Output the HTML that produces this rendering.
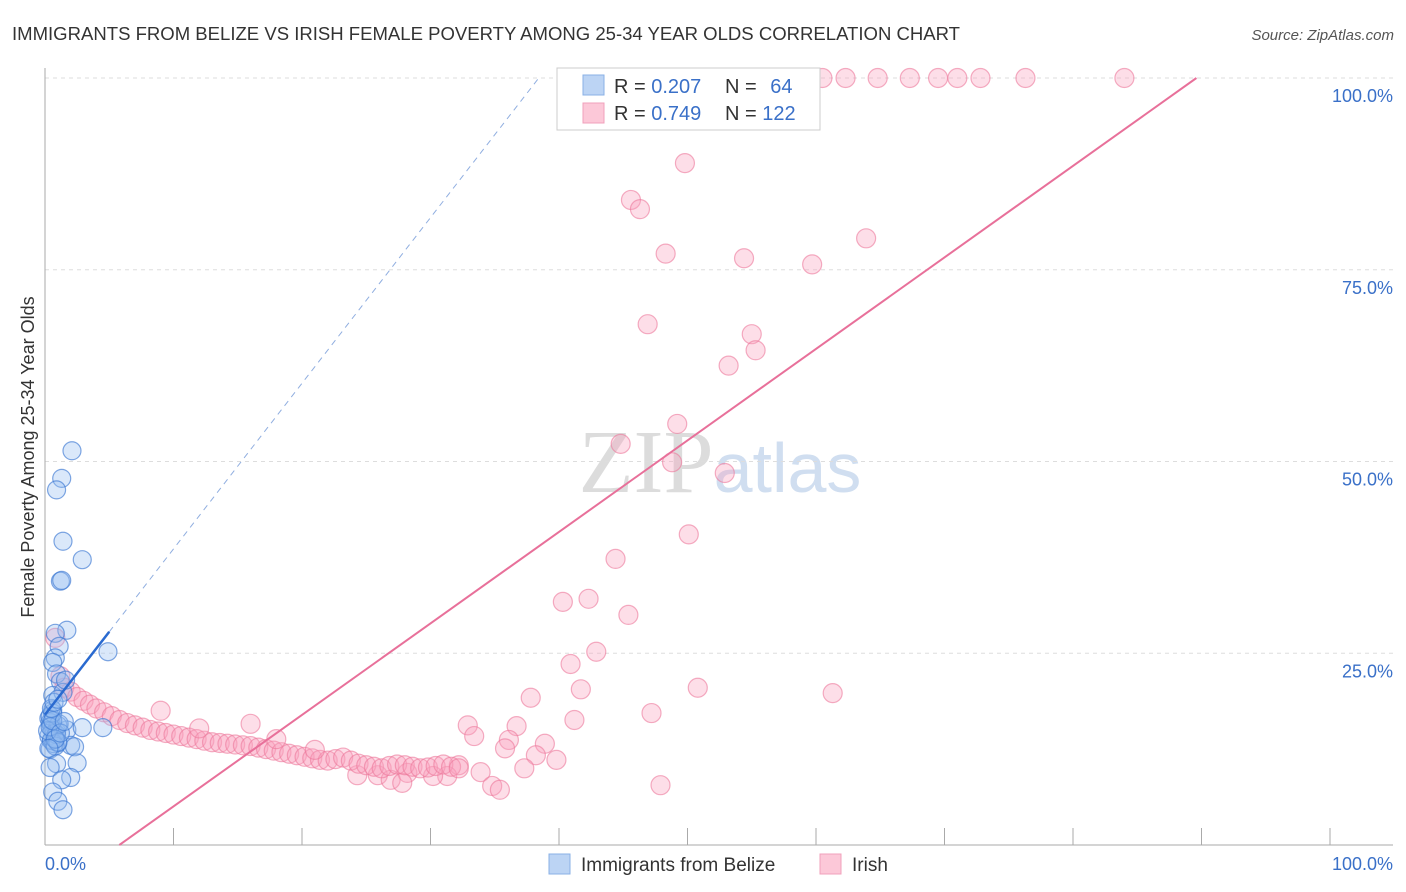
<!DOCTYPE html>
<html><head><meta charset="utf-8"><style>
body{margin:0;background:#fff;font-family:"Liberation Sans",sans-serif;}
svg{display:block}
</style></head><body>
<svg id="c" width="1406" height="892" xmlns="http://www.w3.org/2000/svg">
<text x="12" y="40" font-size="18" fill="#333" textLength="948" lengthAdjust="spacingAndGlyphs">IMMIGRANTS FROM BELIZE VS IRISH FEMALE POVERTY AMONG 25-34 YEAR OLDS CORRELATION CHART</text>
<text x="1394" y="40" font-size="15" fill="#555" font-style="italic" text-anchor="end">Source: ZipAtlas.com</text>
<text x="34" y="457" font-size="18" fill="#333" text-anchor="middle" transform="rotate(-90 34 457)">Female Poverty Among 25-34 Year Olds</text>
<text x="720" y="492" font-size="90" fill="#ddd" text-anchor="middle" font-family="Liberation Serif,serif"><tspan fill="#dcdcdc">ZIP</tspan><tspan fill="#d0def0" font-family="Liberation Sans,sans-serif" font-size="70">atlas</tspan></text>
<g id="grid"></g><g id="pts"></g><g id="lines"></g>
<g>
<rect x="557" y="68" width="263" height="62" fill="#fff" stroke="#ccc"/>
<rect x="583" y="75" width="21" height="20" fill="#bcd4f4" stroke="#8ab0e6"/>
<rect x="583" y="103" width="21" height="20" fill="#fcc8d8" stroke="#f0a0bb"/>
<text x="614" y="93" font-size="20" fill="#333">R = <tspan fill="#3a70c8">0.207</tspan></text>
<text x="725" y="93" font-size="20" fill="#333">N = <tspan fill="#3a70c8" dx="8">64</tspan></text>
<text x="614" y="120" font-size="20" fill="#333">R = <tspan fill="#3a70c8">0.749</tspan></text>
<text x="725" y="120" font-size="20" fill="#333">N = <tspan fill="#3a70c8">122</tspan></text>
</g>
<g>
<rect x="549" y="854" width="21" height="20" fill="#bcd4f4" stroke="#8ab0e6"/>
<text x="581" y="871" font-size="19" fill="#333">Immigrants from Belize</text>
<rect x="820" y="854" width="21" height="20" fill="#fcc8d8" stroke="#f0a0bb"/>
<text x="852" y="871" font-size="19" fill="#333">Irish</text>
</g>
</svg>
<script>
const yTicks=[100,75,50,25];
const yTickLabels=["100.0%","75.0%","50.0%","25.0%"];
const xTicks=[0,10,20,30,40,50,60,70,80,90,100];
const blueX=[2.1,1.3,0.9,1.4,2.9,1.2,1.3,1.7,0.8,1.1,4.9,0.8,0.6,0.9,1.2,0.6,1.4,0.6,0.5,0.6,1.7,2.9,4.5,0.5,1.0,2.0,2.3,0.4,2.5,0.9,0.4,2.0,1.3,0.6,1.0,1.4,0.3,0.4,0.5,0.6,0.7,0.8,0.9,1.0,0.3,0.5,0.7,0.9,1.1,0.4,0.6,0.8,1.0,0.2,0.4,0.6,0.8,1.2,1.5,0.3,0.5,0.7,1.0,1.6];
const blueY=[51.4,47.8,46.3,39.6,37.2,34.4,34.5,28.0,27.6,25.9,25.2,24.4,23.8,22.3,21.3,19.5,19.9,17.6,15.9,15.0,15.0,15.3,15.3,13.7,13.3,13.0,12.8,12.5,10.7,10.6,10.1,8.8,8.5,6.9,5.7,4.6,16.5,16.0,15.5,15.0,14.5,14.0,14.8,15.6,14.2,13.6,13.2,14.4,15.8,16.8,17.2,12.9,13.4,14.9,15.4,16.2,13.8,14.6,16.1,12.6,17.8,18.6,19.0,21.5];
const pinkX=[43.2,47.9,52.1,59.1,60.5,62.3,64.8,67.3,69.5,71.0,72.8,76.3,84.0,49.8,45.6,46.3,63.9,48.3,54.4,59.7,46.9,55.0,55.3,53.2,49.2,44.8,48.8,52.9,50.1,44.4,42.3,40.3,45.4,42.9,40.9,41.7,50.8,61.3,37.8,47.2,41.2,32.9,36.7,33.4,36.1,38.9,35.8,38.2,39.8,32.2,37.3,33.9,24.3,25.9,31.3,28.2,26.9,27.8,30.2,47.9,34.8,35.4,
0.8,1.2,1.5,2.0,2.5,3.0,3.5,4.0,4.6,5.2,5.8,6.4,7.0,7.6,8.2,8.8,9.4,10.0,10.6,11.2,11.8,12.4,13.0,13.6,14.2,14.8,15.4,16.0,16.6,17.2,17.8,18.4,19.0,19.6,20.2,20.8,21.4,22.0,22.6,23.2,23.8,24.4,25.0,25.6,26.2,26.8,27.4,28.0,28.6,29.2,29.8,30.4,31.0,31.6,32.2,18.0,21.0,12.0,9.0,16.0];
const pinkY=[100,100,100,100,100,100,100,100,100,100,100,100,100,88.9,84.1,82.9,79.1,77.1,76.5,75.7,67.9,66.6,64.5,62.5,54.9,52.3,49.9,48.5,40.5,37.3,32.1,31.7,30.0,25.2,23.6,20.3,20.5,19.8,19.2,17.2,16.3,15.6,15.5,14.2,13.7,13.2,12.6,11.7,11.1,10.4,10.0,9.5,9.1,9.1,9.0,9.4,8.5,8.1,9.0,7.8,7.7,7.2,
27.0,22.0,20.5,20.0,19.3,18.8,18.3,17.8,17.3,16.8,16.3,15.9,15.6,15.3,15.0,14.8,14.6,14.4,14.2,14.0,13.8,13.6,13.4,13.3,13.2,13.1,13.0,12.9,12.7,12.5,12.3,12.1,11.9,11.7,11.5,11.3,11.1,11.0,11.2,11.4,11.0,10.6,10.4,10.2,10.0,10.3,10.5,10.4,10.2,10.0,10.1,10.3,10.5,10.2,10.0,13.8,12.4,15.2,17.5,15.8];
const blueFit=[17.0,2.16];
const pinkFit=[-6.9,1.193];
const X0=45,XS=12.85,Y0=845,YS=7.67;
const sx=v=>X0+v*XS, sy=v=>Y0-v*YS;
const NS="http://www.w3.org/2000/svg";
function mk(t,a,p){const e=document.createElementNS(NS,t);for(const k in a)e.setAttribute(k,a[k]);p.appendChild(e);return e;}
const grid=document.getElementById('grid');
yTicks.forEach((t,i)=>{
 const l=mk('line',{x1:45,x2:1393,y1:sy(t),y2:sy(t),stroke:'#ddd','stroke-dasharray':'4,4'},grid);
 
 
 const tx=mk('text',{x:1393,y:sy(t)+24,'font-size':18,fill:'#3a70c8','text-anchor':'end'},grid);
 tx.textContent=yTickLabels[i];
 
 
});
const ax=mk('line',{x1:45,x2:45,y1:68,y2:845,stroke:'#aaa'},grid);


const bx=mk('line',{x1:45,x2:1393,y1:845,y2:845,stroke:'#aaa'},grid);


xTicks.forEach(t=>{
 const l=mk('line',{x1:sx(t),x2:sx(t),y1:828,y2:845,stroke:'#aaa'},grid);
 
 
});
const xl=mk('text',{x:45,y:870,'font-size':18,fill:'#3a70c8'},grid);xl.textContent='0.0%';


const xr=mk('text',{x:1393,y:870,'font-size':18,fill:'#3a70c8','text-anchor':'end'},grid);xr.textContent='100.0%';


const pts=document.getElementById('pts');
pinkX.forEach((v,i)=>{
 const c=mk('circle',{cx:sx(v),cy:sy(pinkY[i]),r:9.5,fill:'rgba(248,160,188,0.35)',stroke:'rgba(236,120,155,0.6)','stroke-width':1.2},pts);
 
 
});
blueX.forEach((v,i)=>{
 const c=mk('circle',{cx:sx(v),cy:sy(blueY[i]),r:9,fill:'rgba(150,190,240,0.35)',stroke:'rgba(60,120,210,0.65)','stroke-width':1.2},pts);
 
 
});
const lines=document.getElementById('lines');
const bEnd=(100-blueFit[0])/blueFit[1];
const bd=mk('line',{x1:sx(5),y1:sy(blueFit[0]+blueFit[1]*5),x2:sx(bEnd),y2:sy(100),stroke:'#90aee0','stroke-width':1,'stroke-dasharray':'6,5'},lines);


const bs=mk('line',{x1:sx(0),y1:sy(blueFit[0]),x2:sx(5),y2:sy(blueFit[0]+blueFit[1]*5),stroke:'#2a6ad0','stroke-width':2.5},lines);


const p0=-pinkFit[0]/pinkFit[1], p1=(100-pinkFit[0])/pinkFit[1];
const pl=mk('line',{x1:sx(p0),y1:sy(0),x2:sx(p1),y2:sy(100),stroke:'#e8709a','stroke-width':2},lines);


</script>
</body></html>
